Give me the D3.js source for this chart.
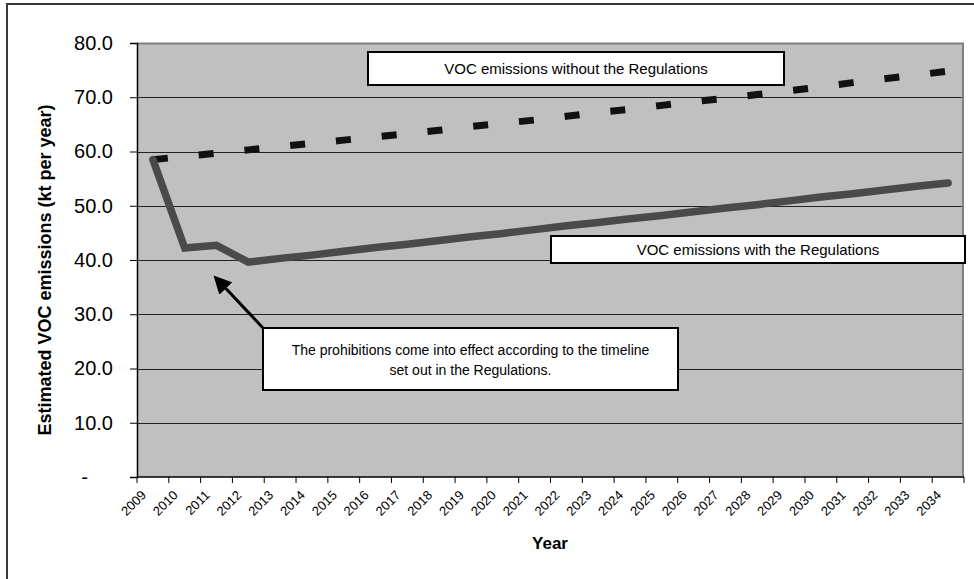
<!DOCTYPE html>
<html>
<head>
<meta charset="utf-8">
<script src="https://cdn.jsdelivr.net/npm/d3@7"></script>
<style>
  html, body { margin: 0; background: #fff; overflow: hidden; }
  svg { display: block; font-family: Arial, "Liberation Sans", sans-serif; }
</style>
</head>
<body>
<div id="chart"></div>
<script>
// Data
var years = ["2009","2010","2011","2012","2013","2014","2015","2016","2017","2018","2019","2020","2021",
             "2022","2023","2024","2025","2026","2027","2028","2029","2030","2031","2032","2033","2034"];
var withoutRegs = [58.5, 59.1, 59.7, 60.3, 60.9, 61.5, 62.1, 62.7, 63.3, 63.9, 64.6, 65.2, 65.8,
                   66.5, 67.2, 67.8, 68.5, 69.2, 69.8, 70.5, 71.2, 71.9, 72.7, 73.4, 74.1, 74.8];
var withRegs = [58.5, 42.2, 42.7, 39.6, 40.3, 40.9, 41.6, 42.3, 42.9, 43.6, 44.3, 44.9, 45.6,
                46.3, 46.9, 47.6, 48.2, 48.9, 49.6, 50.2, 50.9, 51.6, 52.2, 52.9, 53.6, 54.2];
var yTicks = [0, 10, 20, 30, 40, 50, 60, 70, 80];

// SVG area
var svgWidth = 974;
var svgHeight = 579;

var margin = { top: 43, right: 10, bottom: 102, left: 137 };
var width = 964 - margin.left;
var height = 477 - margin.top;

var svg = d3.select("#chart")
    .append("svg")
    .attr("width", svgWidth)
    .attr("height", svgHeight);

// outer chart frame (runs off the picture on the right and bottom)
svg.append("path")
    .attr("d", "M7,579V4H974")
    .attr("fill", "none")
    .attr("stroke", "#3a3a3a")
    .attr("stroke-width", 2);

var chartGroup = svg.append("g")
    .attr("transform", `translate(${margin.left}, ${margin.top})`);

// scales
var xScale = d3.scaleBand()
    .domain(years)
    .range([0, width]);

var yScale = d3.scaleLinear()
    .domain([0, 80])
    .range([height, 0]);

var xMid = d => xScale(d) + xScale.bandwidth() / 2;

// plot area
chartGroup.append("rect")
    .attr("width", width)
    .attr("height", height)
    .attr("fill", "#c0c0c0");

// gridlines
chartGroup.selectAll(".grid")
    .data(yTicks.filter(d => d > 0 && d < 80))
    .enter()
    .append("line")
    .attr("x1", 0).attr("x2", width)
    .attr("y1", d => Math.round(yScale(d)) + 0.5)
    .attr("y2", d => Math.round(yScale(d)) + 0.5)
    .attr("stroke", "#222")
    .attr("stroke-width", 1);

// plot border top / right
chartGroup.append("path")
    .attr("d", `M0,0.5H${width - 1}V${height}`)
    .attr("fill", "none")
    .attr("stroke", "#808080")
    .attr("stroke-width", 2);

// y axis
var leftAxis = d3.axisLeft(yScale)
    .tickValues(yTicks)
    .tickSize(7)
    .tickPadding(17)
    .tickFormat(d => d === 0 ? "-" : d.toFixed(1));

var yAxis = chartGroup.append("g").call(leftAxis);
yAxis.select(".domain").attr("stroke", "#000").attr("stroke-width", 1.5);
yAxis.selectAll(".tick line").attr("stroke", "#000");
yAxis.selectAll("text")
    .attr("font-size", "20px")
    .attr("font-family", "Arial, 'Liberation Sans', sans-serif")
    .attr("fill", "#000")
    .attr("dx", d => d === 0 ? -25 : 0);

// x axis: ticks between categories, labels at category centres
var xAxis = chartGroup.append("g")
    .attr("transform", `translate(0, ${height})`);

xAxis.append("line")
    .attr("x1", 0).attr("x2", width)
    .attr("stroke", "#000")
    .attr("stroke-width", 1.5);

xAxis.selectAll(".xtick")
    .data(years.concat(["end"]))
    .enter()
    .append("line")
    .attr("x1", d => d === "end" ? width : xScale(d))
    .attr("x2", d => d === "end" ? width : xScale(d))
    .attr("y1", 0).attr("y2", 6)
    .attr("stroke", "#000");

xAxis.selectAll(".xlabel")
    .data(years)
    .enter()
    .append("text")
    .attr("transform", d => `translate(${xMid(d) - 6}, 19) rotate(-45)`)
    .attr("text-anchor", "end")
    .attr("font-size", "13px")
    .attr("fill", "#000")
    .text(d => d);

// lines
var line = d3.line()
    .x((d, i) => xMid(years[i]))
    .y(d => yScale(d));

chartGroup.append("path")
    .datum(withoutRegs)
    .attr("d", line)
    .attr("fill", "none")
    .attr("stroke", "#111")
    .attr("stroke-width", 7)
    .attr("stroke-dasharray", "15,31");

chartGroup.append("path")
    .datum(withRegs)
    .attr("d", line)
    .attr("fill", "none")
    .attr("stroke", "#4a4a4a")
    .attr("stroke-width", 7.5)
    .attr("stroke-linecap", "round")
    .attr("stroke-linejoin", "miter");

// annotation boxes
function labelBox(x, y, w, h, lines, baseline, lineGap, size) {
    var g = svg.append("g");
    g.append("rect")
        .attr("x", x).attr("y", y)
        .attr("width", w).attr("height", h)
        .attr("fill", "#fff")
        .attr("stroke", "#000")
        .attr("stroke-width", 2);
    lines.forEach(function(t, i) {
        g.append("text")
            .attr("x", x + w / 2)
            .attr("y", baseline + i * lineGap)
            .attr("text-anchor", "middle")
            .attr("font-size", size)
            .attr("fill", "#000")
            .text(t);
    });
}

labelBox(368, 52, 416, 33, ["VOC emissions without the Regulations"], 73.5, 0, "15px");
labelBox(551, 236, 414, 27, ["VOC emissions with the Regulations"], 254.5, 0, "15px");
labelBox(263, 328, 415, 62, ["The prohibitions come into effect according to the timeline",
                             "set out in the Regulations."], 354.5, 20, "14px");

// arrow pointing at the drop in emissions
svg.append("defs").append("marker")
    .attr("id", "arrowhead")
    .attr("viewBox", "0 0 10 10")
    .attr("refX", 8).attr("refY", 5)
    .attr("markerWidth", 6).attr("markerHeight", 6)
    .attr("orient", "auto")
    .append("path")
    .attr("d", "M0,0L10,5L0,10Z")
    .attr("fill", "#000");

svg.append("line")
    .attr("x1", 263).attr("y1", 328)
    .attr("x2", 216).attr("y2", 278)
    .attr("stroke", "#000")
    .attr("stroke-width", 3)
    .attr("marker-end", "url(#arrowhead)");

// axis titles
chartGroup.append("text")
    .attr("transform", `translate(${45 - margin.left}, ${height / 2 + 10}) rotate(-90)`)
    .attr("text-anchor", "middle")
    .attr("font-size", "18px")
    .attr("font-weight", "bold")
    .attr("dy", "0.35em")
    .text("Estimated VOC emissions (kt per year)");

chartGroup.append("text")
    .attr("x", 550 - margin.left)
    .attr("y", 549 - margin.top)
    .attr("text-anchor", "middle")
    .attr("font-size", "17px")
    .attr("font-weight", "bold")
    .text("Year");
</script>
</body>
</html>
